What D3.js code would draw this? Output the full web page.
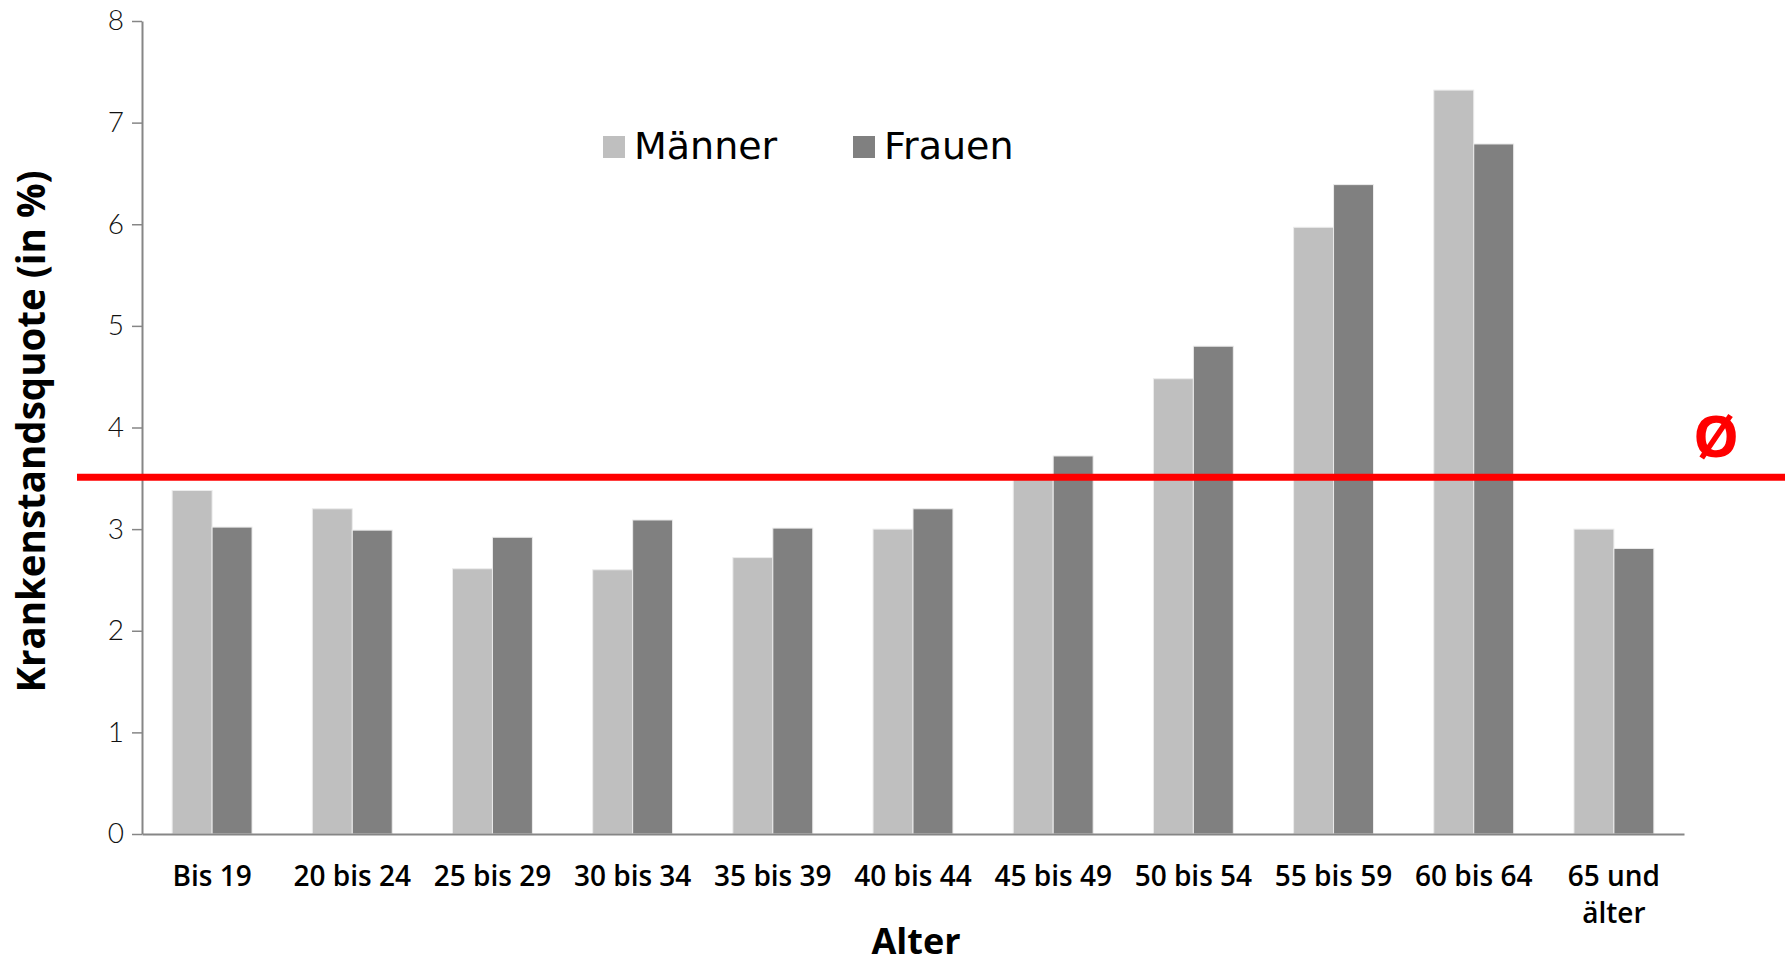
<!DOCTYPE html>
<html>
<head>
<meta charset="utf-8">
<script src="https://cdn.jsdelivr.net/npm/d3@7"></script>
<style>
  html, body { margin: 0; padding: 0; background: #fff; }
  svg { display: block; }
</style>
</head>
<body>
<svg id="chart" width="1789" height="967"></svg>
<script>
// Age groups (x axis) and sick-leave rates in percent per group
const categories = ["Bis 19", "20 bis 24", "25 bis 29", "30 bis 34", "35 bis 39", "40 bis 44",
                    "45 bis 49", "50 bis 54", "55 bis 59", "60 bis 64", "65 und älter"];
const maenner = [3.38, 3.20, 2.61, 2.60, 2.72, 3.00, 3.52, 4.48, 5.97, 7.32, 3.00];
const frauen  = [3.02, 2.99, 2.92, 3.09, 3.01, 3.20, 3.72, 4.80, 6.39, 6.79, 2.81];
const seriesNames = ["Männer", "Frauen"];
const seriesColors = ["#bfbfbf", "#808080"];
const yTicks = [0, 1, 2, 3, 4, 5, 6, 7, 8];
const average = 3.51;

const svg = d3.select("#chart");
const plotLeft = 142, plotRight = 1684, plotTop = 21, plotBottom = 834;

const x = d3.scaleBand().domain(categories).range([plotLeft, plotRight]).paddingInner(0.43).paddingOuter(0.215);
const xInner = d3.scaleBand().domain(seriesNames).range([0, x.bandwidth()]);
const y = d3.scaleLinear().domain([0, 8]).range([plotBottom, plotTop]);

const labelFont = "'Open Sans', 'DejaVu Sans', sans-serif";

// Bars
const series = [maenner, frauen];
series.forEach((vals, si) => {
  svg.append("g").selectAll("rect").data(vals).join("rect")
    .attr("x", (d, i) => x(categories[i]) + xInner(seriesNames[si]))
    .attr("y", d => y(d))
    .attr("width", xInner.bandwidth())
    .attr("height", d => y(0) - y(d))
    .attr("fill", seriesColors[si])
    .attr("stroke", "#ececec")
    .attr("stroke-width", 1);
});

// Y axis
const yAxis = svg.append("g").attr("transform", `translate(${plotLeft},0)`)
  .call(d3.axisLeft(y).tickValues(yTicks).tickSize(10).tickSizeOuter(0).tickPadding(8));
yAxis.select(".domain").attr("stroke", "#868686").attr("stroke-width", 2);
yAxis.selectAll(".tick line").attr("stroke", "#868686").attr("stroke-width", 1.5);
yAxis.selectAll(".tick text")
  .attr("font-family", "'Lato', 'Open Sans', sans-serif")
  .attr("font-weight", 300)
  .attr("font-size", 28)
  .attr("fill", "#111");

// X axis
const xAxis = svg.append("g").attr("transform", `translate(0,${plotBottom})`)
  .call(d3.axisBottom(x).tickSize(0).tickSizeOuter(0).tickFormat(""));
xAxis.select(".domain").attr("stroke", "#868686").attr("stroke-width", 2);
xAxis.selectAll(".tick").each(function(d) {
  const t = d3.select(this).append("text")
    .attr("font-family", labelFont)
    .attr("font-weight", 600)
    .attr("font-size", 28)
    .attr("fill", "#000")
    .attr("text-anchor", "middle");
  const parts = d === "65 und älter" ? ["65 und", "älter"] : [d];
  parts.forEach((p, k) => t.append("tspan").attr("x", 0).attr("y", 52 + k * 37).text(p));
});

// Axis titles
svg.append("text")
  .attr("transform", `translate(45,${(plotTop + plotBottom) / 2 + 4}) rotate(-90)`)
  .attr("text-anchor", "middle")
  .attr("font-family", labelFont)
  .attr("font-weight", 700)
  .attr("font-size", 38.5)
  .attr("fill", "#000")
  .text("Krankenstandsquote (in %)");

svg.append("text")
  .attr("x", (plotLeft + plotRight) / 2 + 3)
  .attr("y", 954)
  .attr("text-anchor", "middle")
  .attr("font-family", labelFont)
  .attr("font-weight", 700)
  .attr("font-size", 36)
  .attr("fill", "#000")
  .text("Alter");

// Average line with Ø marker
svg.append("line")
  .attr("x1", plotLeft - 65).attr("x2", 1785)
  .attr("y1", y(average)).attr("y2", y(average))
  .attr("stroke", "#ff0000").attr("stroke-width", 7);
svg.append("text")
  .attr("x", 1716).attr("y", y(average) - 20)
  .attr("text-anchor", "middle")
  .attr("font-family", labelFont)
  .attr("font-weight", 700)
  .attr("font-size", 58)
  .attr("fill", "#ff0000")
  .text("Ø");

// Legend
const legend = svg.append("g");
const legendX = [603, 853];
seriesNames.forEach((name, i) => {
  legend.append("rect")
    .attr("x", legendX[i]).attr("y", 136)
    .attr("width", 22).attr("height", 22)
    .attr("fill", seriesColors[i]);
  legend.append("text")
    .attr("x", legendX[i] + 31).attr("y", 159)
    .attr("font-family", "'DejaVu Sans', 'Lato', sans-serif")
    .attr("font-weight", 400)
    .attr("font-size", 38)
    .attr("fill", "#000")
    .text(name);
});
</script>
</body>
</html>
